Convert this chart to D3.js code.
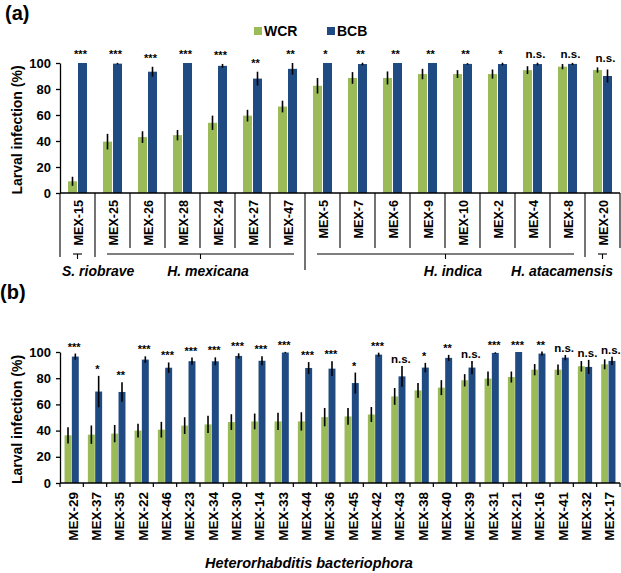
<!DOCTYPE html>
<html><head><meta charset="utf-8">
<script src="https://cdn.jsdelivr.net/npm/d3@7"></script>
<style>
body{margin:0;background:#fff;}
text{font-family:"Liberation Sans",Arial,sans-serif;font-weight:bold;fill:#000;}
</style></head>
<body><div id="chart"></div>
<script>
// ---------- DATA ----------
const series = ["WCR", "BCB"];
const colors = ["#9BBB59", "#1F4A82"];

const catsA = ["MEX-15","MEX-25","MEX-26","MEX-28","MEX-24","MEX-27","MEX-47","MEX-5","MEX-7","MEX-6","MEX-9","MEX-10","MEX-2","MEX-4","MEX-8","MEX-20"];
const wcrA    = [9, 39.5, 43, 44.5, 54, 59.5, 66.5, 82.5, 88.5, 88.5, 91.5, 91.5, 91.5, 94.5, 97.2, 94.6];
const wcrErrA = [3.5, 6, 4.5, 4, 5.5, 4.5, 4.5, 6, 4.5, 5, 4, 3, 3.5, 3, 2, 2];
const bcbA    = [100, 99.5, 93.3, 100, 97.8, 88, 95.5, 100, 99.2, 100, 100, 99.3, 99.2, 99.2, 99.3, 90];
const bcbErrA = [0, 0.6, 3.8, 0, 1.5, 5.3, 4.5, 0, 1, 0, 0, 0.6, 1, 1, 0.8, 5];
const sigA    = ["***","***","***","***","***","**","**","*","**","**","**","**","*","n.s.","n.s.","n.s."];
const speciesA = [
  {name:"S. riobrave",    first:"MEX-15", last:"MEX-15", align:"start"},
  {name:"H. mexicana",    first:"MEX-25", last:"MEX-47", align:"middle"},
  {name:"H. indica",      first:"MEX-5",  last:"MEX-8",  align:"middle"},
  {name:"H. atacamensis", first:"MEX-20", last:"MEX-20", align:"end"}
];

const catsB = ["MEX-29","MEX-37","MEX-35","MEX-22","MEX-46","MEX-23","MEX-34","MEX-30","MEX-14","MEX-33","MEX-44","MEX-36","MEX-45","MEX-42","MEX-43","MEX-38","MEX-40","MEX-39","MEX-31","MEX-21","MEX-16","MEX-41","MEX-32","MEX-17"];
const wcrB    = [36.4, 36.9, 37.7, 40, 40.7, 43.8, 44.7, 46.5, 47, 47, 47, 50.3, 50.8, 52.3, 66.1, 70.7, 72.8, 78.4, 79.7, 80.9, 86.5, 86.5, 89.1, 90.6];
const wcrErrB = [6.2, 7, 6.6, 5.3, 6, 6.4, 6.6, 6, 6, 6.6, 7, 7, 6.4, 5.7, 6.4, 5.7, 5.7, 4.7, 5.5, 4.2, 4.3, 4, 4, 3.8];
const bcbB    = [96.5, 69.8, 69.5, 94.2, 88, 93, 92.9, 97, 93.3, 99.6, 87.8, 87.3, 76.3, 98, 81.4, 88.1, 95.5, 88.1, 99.3, 100, 98.8, 95.7, 88.6, 93.2];
const bcbErrB = [2.3, 12, 7.4, 2.5, 4, 2.8, 3, 2, 3.5, 0.5, 4.5, 5.7, 8, 1.5, 8, 3.6, 2.3, 5.1, 0.5, 0, 1.5, 2, 5.4, 3.2];
const sigB    = ["***","*","**","***","***","***","***","***","***","***","***","***","*","***","n.s.","*","**","n.s.","***","***","**","n.s.","n.s.","n.s."];
const speciesB = "Heterorhabditis bacteriophora";

const yTicks = [0, 20, 40, 60, 80, 100];
const yTitle = "Larval infection (%)";

// ---------- DRAW ----------
const W = 621, H = 573;
const svg = d3.select("#chart").append("svg").attr("width", W).attr("height", H);

function panel(cfg){
  const {cats, wcr, wcrErr, bcb, bcbErr, sig, x0, x1, yBot, yTop, inner, outer, labelSize, labelGap, sigGap, sigDx} = cfg;
  const g = svg.append("g");
  const x = d3.scaleBand().domain(cats).range([x0, x1]).padding(0);
  const xs = d3.scaleBand().domain(series).range([0, x.bandwidth()]).paddingInner(inner).paddingOuter(outer);
  const y = d3.scaleLinear().domain([0, 100]).range([yBot, yTop]);
  const rows = cats.map((c, i) => ({c, vals:[{s:"WCR", v:wcr[i], e:wcrErr[i]}, {s:"BCB", v:bcb[i], e:bcbErr[i]}], sig:sig[i]}));

  const grp = g.selectAll("g.cat").data(rows).join("g").attr("class","cat")
    .attr("transform", d => `translate(${x(d.c)},0)`);
  grp.selectAll("rect").data(d => d.vals).join("rect")
    .attr("x", d => xs(d.s)).attr("width", xs.bandwidth())
    .attr("y", d => y(d.v)).attr("height", d => y(0) - y(d.v))
    .attr("fill", d => colors[series.indexOf(d.s)]);
  grp.selectAll("line.err").data(d => d.vals.filter(v => v.e > 0)).join("line").attr("class","err")
    .attr("x1", d => xs(d.s) + xs.bandwidth()/2).attr("x2", d => xs(d.s) + xs.bandwidth()/2)
    .attr("y1", d => y(Math.min(100.3, d.v + d.e))).attr("y2", d => y(d.v - d.e))
    .attr("stroke", "#000").attr("stroke-width", 1.6);
  grp.append("text")
    .attr("x", x.bandwidth()/2 + sigDx)
    .attr("y", d => y(d3.max(d.vals, v => v.v + v.e)) - sigGap)
    .attr("text-anchor", "middle")
    .attr("font-size", d => d.sig === "n.s." ? 11.5 : 11)
    .text(d => d.sig);

  // y axis
  const ya = g.append("g").attr("transform", `translate(${x0},0)`)
    .call(d3.axisLeft(y).tickValues(yTicks).tickSize(4).tickSizeOuter(0).tickPadding(5));
  ya.selectAll("text").attr("font-size", 13).style("font-weight", "bold").style("font-family", "'Liberation Sans',Arial,sans-serif");
  ya.selectAll("line, path").attr("stroke", "#000").attr("stroke-width", 1.3);
  g.append("text").attr("transform", `translate(22,${(yBot + yTop)/2 + 2}) rotate(-90)`)
    .attr("text-anchor", "middle").attr("font-size", 14).text(yTitle);

  // baseline
  g.append("line").attr("x1", x0).attr("x2", x1).attr("y1", yBot).attr("y2", yBot)
    .attr("stroke", "#000").attr("stroke-width", 1.5);
  // category labels
  g.selectAll("text.cl").data(cats).join("text").attr("class","cl")
    .attr("transform", c => `translate(${x(c) + x.bandwidth()/2 + 1},${yBot + labelGap}) rotate(-90)`)
    .attr("text-anchor", "end").attr("dy", "0.36em").attr("font-size", labelSize).text(c => c);
  return {g, x, y};
}

// ---- Panel (a)
const A = panel({cats:catsA, wcr:wcrA, wcrErr:wcrErrA, bcb:bcbA, bcbErr:bcbErrA, sig:sigA,
  x0:60, x1:620, yBot:193, yTop:63, inner:0.1, outer:0.8, labelSize:12.6, labelGap:7, sigGap:5, sigDx:3});
{
  const x = A.x, bw = x.bandwidth(), yb = 193;
  const bounds = d3.range(catsA.length + 1);
  const groupStarts = speciesA.map(s => catsA.indexOf(s.first));
  const majorIdx = catsA.indexOf(speciesA[2].first);
  function x0b(i){ return i < catsA.length ? x(catsA[i]) : x(catsA[catsA.length-1]) + bw; }
  A.g.selectAll("line.sep").data(bounds).join("line").attr("class","sep")
    .attr("x1", i => x0b(i)).attr("x2", i => x0b(i))
    .attr("y1", yb).attr("y2", i => i === majorIdx ? yb + 77 : (groupStarts.includes(i) ? yb + 64 : yb + 55))
    .attr("stroke", "#000").attr("stroke-width", 1.1);
  speciesA.forEach(s => {
    const a = x(s.first), b = x(s.last) + bw;
    const single = s.first === s.last;
    const l = single ? a + bw/2 - 4.5 : a + 12, r = single ? a + bw/2 + 4.5 : b - 11;
    const mid = (l + r)/2;
    A.g.append("line").attr("x1", l).attr("x2", r).attr("y1", yb + 61).attr("y2", yb + 61).attr("stroke", "#000").attr("stroke-width", 1.1);
    A.g.append("line").attr("x1", mid).attr("x2", mid).attr("y1", yb + 61).attr("y2", yb + 66).attr("stroke", "#000").attr("stroke-width", 1.1);
    const tx = s.align === "start" ? a + 2 : s.align === "end" ? b - 7 : (a + b)/2 + 8;
    A.g.append("text").attr("x", tx).attr("y", yb + 83).attr("text-anchor", s.align)
      .attr("font-size", 14).attr("font-style", "italic").text(s.name);
  });
}

// ---- Panel (b)
const B = panel({cats:catsB, wcr:wcrB, wcrErr:wcrErrB, bcb:bcbB, bcbErr:bcbErrB, sig:sigB,
  x0:60, x1:620, yBot:483, yTop:352, inner:0.05, outer:0.62, labelSize:13.5, labelGap:9, sigGap:3, sigDx:2.5});
{
  const x = B.x, bw = x.bandwidth();
  const bounds = catsB.map(c => x(c)).concat([x(catsB[catsB.length-1]) + bw]);
  B.g.selectAll("line.tk").data(bounds).join("line").attr("class","tk")
    .attr("x1", d => d).attr("x2", d => d).attr("y1", 483).attr("y2", 487)
    .attr("stroke", "#000").attr("stroke-width", 1.2);
  B.g.append("text").attr("x", 309).attr("y", 568).attr("text-anchor", "middle")
    .attr("font-size", 14.5).attr("font-style", "italic").text(speciesB);
}

// panel letters
svg.append("text").attr("x", 5).attr("y", 20).attr("font-size", 20).text("(a)");
svg.append("text").attr("x", 0).attr("y", 299).attr("font-size", 20).text("(b)");

// legend
const lg = svg.append("g");
const legX = [254, 327];
series.forEach((s, i) => {
  lg.append("rect").attr("x", legX[i]).attr("y", 27).attr("width", 8).attr("height", 8).attr("fill", colors[i]);
  lg.append("text").attr("x", legX[i] + 10).attr("y", 35.5).attr("font-size", 14).text(s);
});
</script>
</body></html>
